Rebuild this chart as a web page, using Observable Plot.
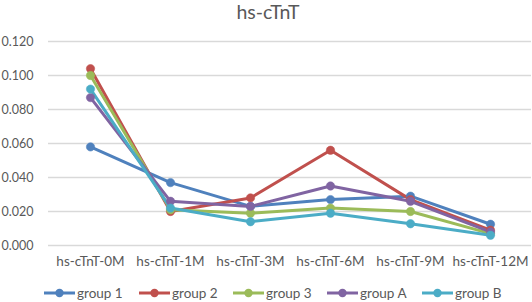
<!DOCTYPE html>
<html>
<head>
<meta charset="utf-8">
<script src="https://cdn.jsdelivr.net/npm/d3@7"></script>
<script src="https://cdn.jsdelivr.net/npm/@observablehq/plot@0.6"></script>
<style>
  body { margin: 0; background: #fff; font-family: Lato, "Open Sans", sans-serif; }
  #wrap { position: relative; width: 532px; height: 302px; overflow: hidden; }
  #title { position: absolute; left: 0; width: 536px; top: 0px; text-align: center; font-size: 19.5px; color: #595959; }
  #legend { position: absolute; top: 285px; left: 0; width: 532px; height: 18px; font-size: 13.5px; color: #595959; }
  .item { position: absolute; display: flex; align-items: center; }
  .item svg { margin-right: 1px; }
  #chart { position: absolute; left: 0; top: 0; }
</style>
</head>
<body>
<div id="wrap">
  <div id="chart"></div>
  <div id="title">hs-cTnT</div>
  <div id="legend"></div>
</div>
<script>
const categories = ["hs-cTnT-0M", "hs-cTnT-1M", "hs-cTnT-3M", "hs-cTnT-6M", "hs-cTnT-9M", "hs-cTnT-12M"];
const seriesNames = ["group 1", "group 2", "group 3", "group A", "group B"];
const seriesColors = ["#4F81BD", "#C0504D", "#9BBB59", "#8064A2", "#4BACC6"];
const group1 = [0.058, 0.037, 0.023, 0.027, 0.029, 0.0125];
const group2 = [0.104, 0.020, 0.028, 0.056, 0.027, 0.009];
const group3 = [0.100, 0.021, 0.019, 0.022, 0.020, 0.007];
const groupA = [0.087, 0.026, 0.023, 0.035, 0.026, 0.008];
const groupB = [0.092, 0.022, 0.014, 0.019, 0.0128, 0.006];
const yTicks = [0, 0.02, 0.04, 0.06, 0.08, 0.10, 0.12];

const allSeries = [group1, group2, group3, groupA, groupB];
const data = [];
allSeries.forEach((vals, si) => {
  vals.forEach((v, i) => data.push({ series: seriesNames[si], cat: categories[i], value: v }));
});

const chart = Plot.plot({
  width: 532,
  height: 302,
  marginLeft: 48,
  marginRight: 1,
  marginTop: 41,
  marginBottom: 57,
  style: { fontFamily: "Lato, 'Open Sans', sans-serif", fontSize: "12.5px", color: "#595959", background: "transparent" },
  x: { domain: categories, type: "band", padding: 0, label: null },
  y: { domain: [0, 0.12], label: null },
  color: { domain: seriesNames, range: seriesColors },
  marks: [
    Plot.gridY(yTicks, { stroke: "#d9d9d9", strokeOpacity: 1, strokeWidth: 1.3 }),
    Plot.axisX({ tickSize: 0, tickPadding: 11, label: null, fill: "#595959", fontSize: 13.5 }),
    Plot.axisY({ ticks: yTicks, tickFormat: d3.format(".3f"), tickSize: 0, tickPadding: 15, label: null, fill: "#595959" }),
    Plot.line(data, { x: "cat", y: "value", z: "series", stroke: "series", strokeWidth: 3, curve: "linear" }),
    Plot.dot(data, { x: "cat", y: "value", fill: "series", r: 4.2, stroke: "series", strokeWidth: 0.5 })
  ]
});
document.getElementById("chart").appendChild(chart);

const legendX = [43, 138, 232, 326, 421];
const legend = document.getElementById("legend");
seriesNames.forEach((name, i) => {
  const item = document.createElement("div");
  item.className = "item";
  item.style.left = legendX[i] + "px";
  item.innerHTML = `<svg width="33" height="14"><line x1="1" y1="7" x2="32" y2="7" stroke="${seriesColors[i]}" stroke-width="3"/><circle cx="16.5" cy="7" r="4.2" fill="${seriesColors[i]}"/></svg><span>${name}</span>`;
  legend.appendChild(item);
});
</script>
</body>
</html>
